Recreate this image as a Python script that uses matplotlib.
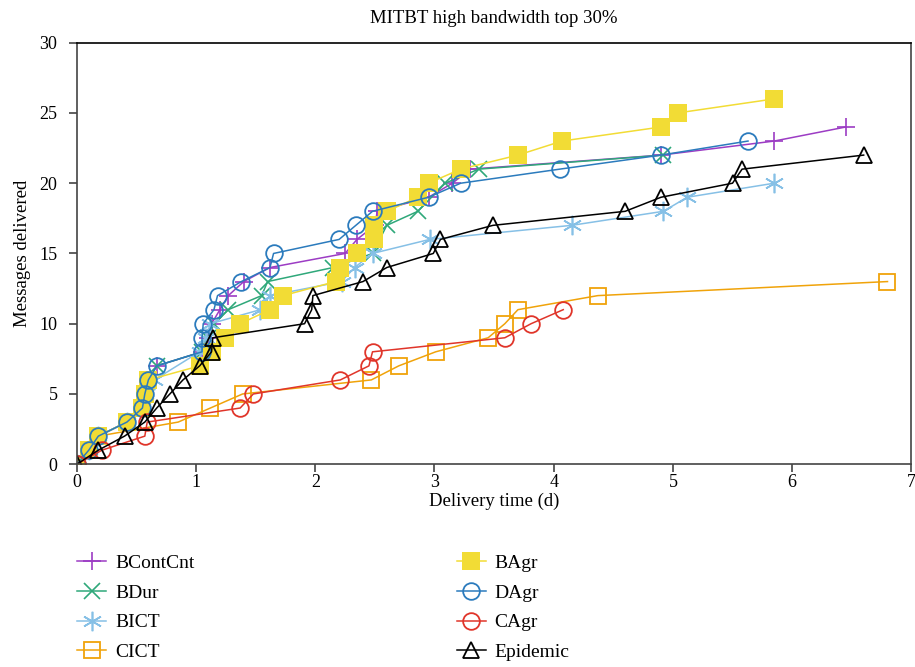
import matplotlib
matplotlib.use('Agg')
import matplotlib.pyplot as plt

plt.rcParams['font.family'] = ['Liberation Serif', 'DejaVu Serif']

# data (x = delivery time in days, y = messages delivered)
bcontcnt_x = [0, 0.1, 0.18, 0.42, 0.55, 0.57, 0.6, 0.67, 1.05, 1.1, 1.13, 1.2, 1.27, 1.4, 1.62, 2.25, 2.35, 2.5, 2.52,
              2.95, 3.15, 3.3, 4.9, 5.85, 6.45]
bcontcnt_y = [0, 1, 2, 3, 4, 5, 6, 7, 8, 9, 10, 11, 12, 13, 14, 15, 16, 17, 18, 19, 20, 21, 22, 23, 24]

bdur_x = [0, 0.1, 0.18, 0.42, 0.55, 0.57, 0.6, 0.67, 1.05, 1.1, 1.15, 1.27, 1.55, 1.6, 2.15, 2.48, 2.6, 2.86, 3.09,
          3.37, 4.92]
bdur_y = [0, 1, 2, 3, 4, 5, 6, 7, 8, 9, 10, 11, 12, 13, 14, 15, 17, 18, 20, 21, 22]

bict_x = [0, 0.1, 0.18, 0.42, 0.55, 0.57, 0.65, 1.03, 1.08, 1.12, 1.54, 1.62, 2.22, 2.33, 2.48, 2.96, 4.15, 4.92,
          5.12, 5.85]
bict_y = [0, 1, 2, 3, 4, 5, 6, 8, 9, 10, 11, 12, 13, 14, 15, 16, 17, 18, 19, 20]

cict_x = [0, 0.1, 0.18, 0.85, 1.12, 1.39, 2.47, 2.7, 3.01, 3.45, 3.59, 3.7, 4.37, 6.8]
cict_y = [0, 1, 2, 3, 4, 5, 6, 7, 8, 9, 10, 11, 12, 13]

bagr_x = [0, 0.1, 0.18, 0.42, 0.55, 0.57, 0.6, 1.03, 1.13, 1.24, 1.37, 1.62, 1.73, 2.17, 2.21, 2.35, 2.49, 2.49,
          2.6, 2.86, 2.95, 3.22, 3.7, 4.07, 4.9, 5.04, 5.85]
bagr_y = [0, 1, 2, 3, 4, 5, 6, 7, 8, 9, 10, 11, 12, 13, 14, 15, 16, 17, 18, 19, 20, 21, 22, 23, 24, 25, 26]

dagr_x = [0, 0.1, 0.18, 0.42, 0.55, 0.57, 0.6, 0.67, 1.05, 1.05, 1.06, 1.15, 1.18, 1.38, 1.62, 1.65, 2.2, 2.34,
          2.48, 2.95, 3.22, 4.05, 4.9, 5.63]
dagr_y = [0, 1, 2, 3, 4, 5, 6, 7, 8, 9, 10, 11, 12, 13, 14, 15, 16, 17, 18, 19, 20, 21, 22, 23]

cagr_x = [0, 0.21, 0.57, 0.59, 1.37, 1.48, 2.21, 2.45, 2.48, 3.59, 3.81, 4.08]
cagr_y = [0, 1, 2, 3, 4, 5, 6, 7, 8, 9, 10, 11]

epidemic_x = [0, 0.18, 0.4, 0.57, 0.67, 0.78, 0.89, 1.03, 1.13, 1.14, 1.91, 1.97, 1.98, 2.4, 2.6, 2.99, 3.05, 3.49,
              4.6, 4.9, 5.5, 5.58, 6.6]
epidemic_y = [0, 1, 2, 3, 4, 5, 6, 7, 8, 9, 10, 11, 12, 13, 14, 15, 16, 17, 18, 19, 20, 21, 22]

fig = plt.figure(figsize=(9.15, 6.67), dpi=100)
ax = fig.add_axes([0.084, 0.304, 0.912, 0.632])

lw = 1.1
ax.plot(bcontcnt_x, bcontcnt_y, color='#9c3cc4', lw=lw, marker='+', ms=13, mew=1.2, label='BContCnt')
ax.plot(bdur_x, bdur_y, color='#2fa87a', lw=lw, marker='x', ms=11, mew=1.2, label='BDur')
ax.plot(bict_x, bict_y, color='#86c0e6', lw=lw, marker=(6, 2, 0), ms=14, mew=1.2, label='BICT')
ax.plot(cict_x, cict_y, color='#f0a30a', lw=lw, marker='s', ms=12, mew=1.3, mfc='none', label='CICT')
ax.plot(bagr_x, bagr_y, color='#f2dc35', lw=lw, marker='s', ms=12.5, mew=0, mfc='#f2dc35', label='BAgr')
ax.plot(dagr_x, dagr_y, color='#2b7bbd', lw=lw, marker='o', ms=12, mew=1.3, mfc='none', label='DAgr')
ax.plot(cagr_x, cagr_y, color='#e0352a', lw=lw, marker='o', ms=12, mew=1.3, mfc='none', label='CAgr')
ax.plot(epidemic_x, epidemic_y, color='black', lw=lw, marker='^', ms=11, mew=1.3, mfc='none', label='Epidemic')

ax.set_xlim(0, 7)
ax.set_ylim(0, 30)
ax.set_xticks(range(0, 8))
ax.set_yticks(range(0, 31, 5))
ax.tick_params(direction='out', length=6, width=1.2, labelsize=13, color='#444444')
ax.tick_params(axis='x', pad=1)
ax.tick_params(axis='y', pad=8)
for s in ax.spines.values():
    s.set_linewidth(1.2)
ax.spines['left'].set_color('#444444')
ax.spines['bottom'].set_color('#444444')
ax.spines['right'].set_color('#444444')

ax.set_xlabel('Delivery time (d)', fontsize=13.5, labelpad=1)
ax.set_ylabel('Messages delivered', fontsize=13.5, labelpad=6)
ax.set_title('MITBT high bandwidth top 30%', fontsize=13.5, pad=14)

fig.legend(loc='upper left', bbox_to_anchor=(0.065, 0.195), ncol=2, frameon=False, fontsize=14,
           handlelength=1.5, handletextpad=0.45, columnspacing=13.5, labelspacing=0.62)

fig.savefig('out.png', dpi=100)
